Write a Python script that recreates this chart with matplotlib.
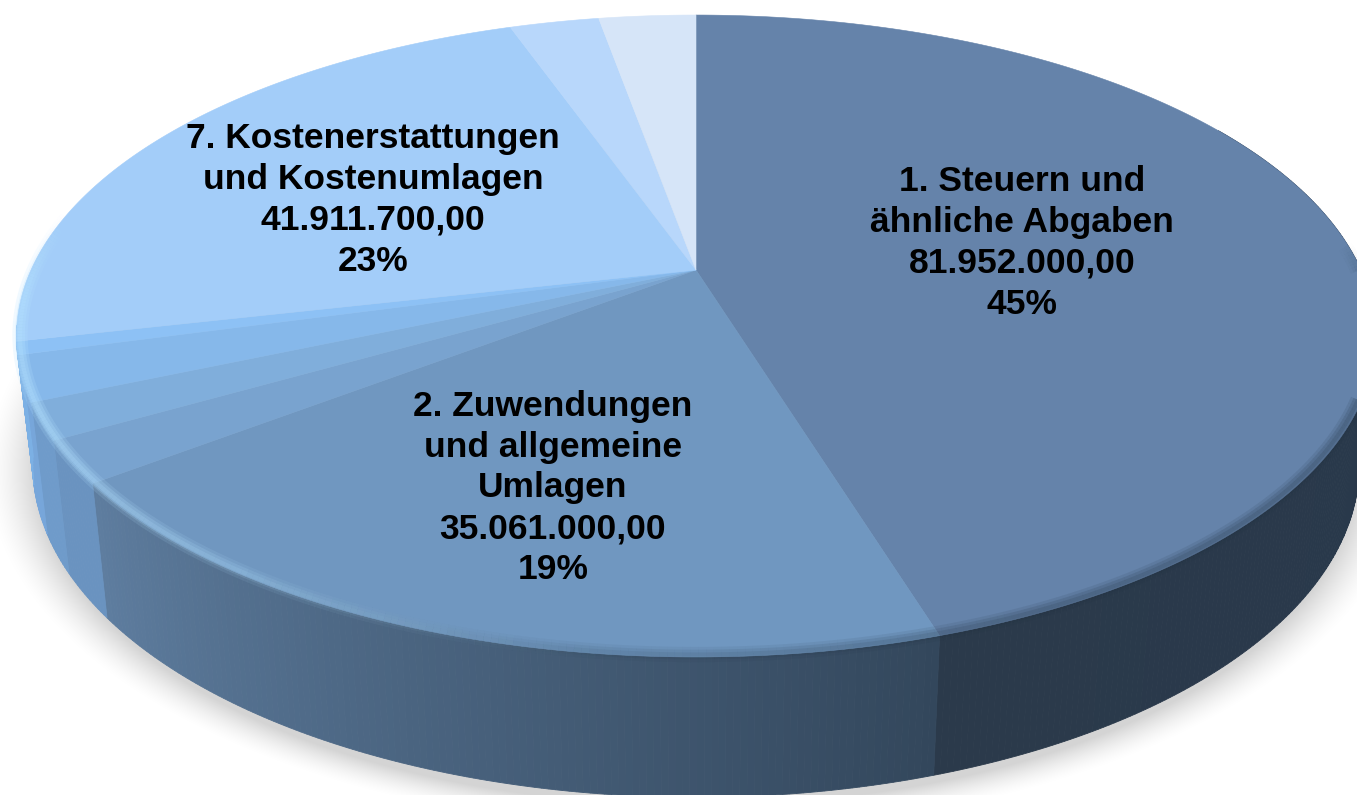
import numpy as np
import matplotlib
matplotlib.use('Agg')
import matplotlib.pyplot as plt
from matplotlib.collections import LineCollection
from matplotlib.colors import to_rgb

# data, clockwise from the top
values = [81.952, 35.061, 3.8, 3.3, 4.1, 1.2, 41.9117, 4.7, 5.1]
labels = ['1. Steuern und\nähnliche Abgaben\n81.952.000,00\n45%',
          '2. Zuwendungen\nund allgemeine\nUmlagen\n35.061.000,00\n19%',
          None, None, None, None,
          '7. Kostenerstattungen\nund Kostenumlagen\n41.911.700,00\n23%',
          None, None]

# styles
top_colors = ['#6583aa', '#7097c0', '#79a3cf', '#80aedb', '#86b8ea', '#8dc1f5',
              '#a3cdf9', '#b8d7fb', '#d6e5f8']
wall_left = ['#27374a', '#33475c', '#6a93c0', '#6f9bca', '#77a6da', '#7cb0e4',
             '#7cb0e4', '#7cb0e4', '#7cb0e4']
wall_right = ['#2b3a4b', '#5e7d9f', '#6a93c0', '#6f9bca', '#77a6da', '#7cb0e4',
              '#7cb0e4', '#7cb0e4', '#7cb0e4']
label_pos = [(1022, 243), (553, 488), None, None, None, None, (373, 200), None, None]

W, H = 1357, 795
K = 0.2056  # perspective


def top_rim(theta, r=1.0):
    u, v = r * np.sin(theta), r * np.cos(theta)
    d = 1 + K * v
    return 696 + 665 * u / d, 270 - 307.4 * v / d


def low_rim(theta):
    u, v = np.sin(theta), np.cos(theta)
    d = 1 + K * v
    return 696 + 649 * u / d, 397 - 318 * v / d


fig = plt.figure(figsize=(W / 100, H / 100), dpi=100)
ax = fig.add_axes([0, 0, 1, 1])
ax.set_xlim(0, W)
ax.set_ylim(H, 0)
ax.axis('off')

# soft shadow under the pie
xx, yy = np.meshgrid(np.arange(W), np.arange(H))
s = np.sqrt(((xx - 696) / 680) ** 2 + ((yy - 470) / 345) ** 2)
alpha = np.clip((1.05 - s) / 0.08, 0, 1) ** 1.6 * 0.17
shadow = np.zeros((H, W, 4))
shadow[..., 3] = alpha
ax.imshow(shadow, extent=(0, W, H, 0), zorder=1, aspect='auto')

edges = np.cumsum([0] + values) / sum(values) * 2 * np.pi

# side wall, only the part facing us
for i in range(len(values)):
    a0, a1 = max(edges[i], np.radians(60)), min(edges[i + 1], np.radians(260))
    if a1 <= a0:
        continue
    n = max(2, int(np.degrees(a1 - a0) * 2))
    steps = np.linspace(a0, a1, n + 1)
    c0, c1 = np.array(to_rgb(wall_left[i])), np.array(to_rgb(wall_right[i]))
    for j in range(n):
        t = j / max(n - 1, 1)
        th = np.linspace(steps[j], steps[j + 1], 3)
        x1, y1 = top_rim(th)
        x2, y2 = low_rim(th)
        col = c0 + (c1 - c0) * t
        ax.fill(np.r_[x1, x2[::-1]], np.r_[y1, y2[::-1]], color=col, lw=0.6, zorder=2)

# top surface
for i in range(len(values)):
    th = np.linspace(edges[i], edges[i + 1], 200)
    x, y = top_rim(th)
    ax.fill(np.r_[696, x], np.r_[270, y], color=top_colors[i], lw=0.4, zorder=3)

# rim: dark blur on the right, light bevel on the left
th = np.radians(np.linspace(85, 300, 400))
x, y = top_rim(th, 0.995)
pts = np.column_stack([x, y]).reshape(-1, 1, 2)
segs = np.concatenate([pts[:-1], pts[1:]], axis=1)
deg = np.degrees(th[:-1])
dark = np.clip((215 - deg) / 60, 0, 1) * np.clip((deg - 85) / 15, 0, 1)
light = np.clip((deg - 185) / 60, 0, 1) * np.clip((280 - deg) / 15, 0, 1)
for lw, a in [(11, 0.10), (7, 0.14), (3, 0.14)]:
    rgba = np.zeros((len(segs), 4))
    rgba[:, :3] = to_rgb('#20303f')
    rgba[:, 3] = dark * a
    ax.add_collection(LineCollection(segs, colors=rgba, linewidths=lw, zorder=4))
    rgba = np.zeros((len(segs), 4))
    rgba[:, :3] = to_rgb('#b4e2ff')
    rgba[:, 3] = light * a * 2
    ax.add_collection(LineCollection(segs, colors=rgba, linewidths=lw, zorder=4))

# labels
for lab, pos in zip(labels, label_pos):
    if lab:
        ax.text(pos[0], pos[1], lab, ha='center', va='center', family='Liberation Sans',
                fontweight='bold', fontsize=25.5, linespacing=1.30, color='black', zorder=5)

fig.savefig('out.png', dpi=100)
